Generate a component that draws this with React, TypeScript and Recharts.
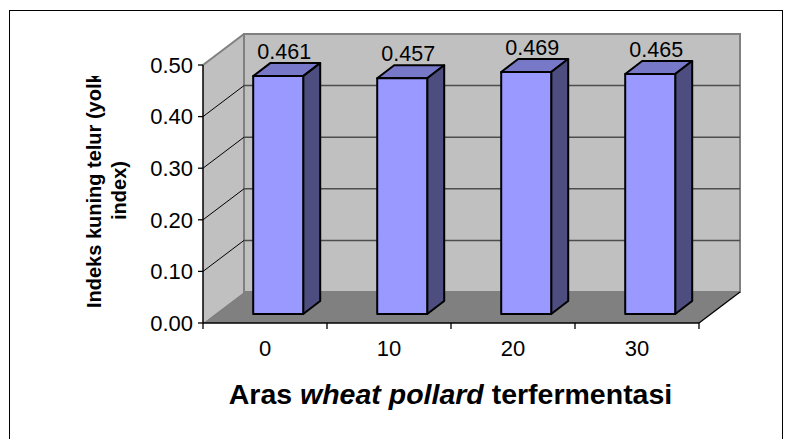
import React from "react";
import { BarChart, Bar, XAxis, YAxis, ReferenceArea, LabelList } from "recharts";

const categories = ["0", "10", "20", "30"];
const yolkIndex = [0.461, 0.457, 0.469, 0.465];
const yTicks = [0, 0.1, 0.2, 0.3, 0.4, 0.5];

const data = categories.map((name, i) => ({ name, value: yolkIndex[i] }));

const FONT = '"Liberation Sans", Arial, Helvetica, sans-serif';

// depth of the 3D box (walls) and of the columns
const WALL_DX = 41;
const WALL_DY = 31;
const BAR_SX = 13; // column front face sits a bit inside the box
const BAR_SY = 9;
const BAR_DX = 17;
const BAR_DY = 13;

// back wall, side wall, floor and gridlines, drawn from the plot rect
function Walls(props: any) {
  const { x, y, width, height } = props;
  const yMax = yTicks[yTicks.length - 1];
  const yAt = (v: number) => y + height - (v / yMax) * height;
  const bx = x + WALL_DX;
  const by = y - WALL_DY;
  const bottom = y + height;
  const step = width / categories.length;
  const bounds = categories.map((_, i) => i).concat([categories.length]);

  return (
    <g>
      <polygon
        points={`${x},${y} ${bx},${by} ${bx},${by + height} ${x},${bottom}`}
        fill="#c0c0c0"
      />
      <rect x={bx} y={by} width={width} height={height} fill="#c0c0c0" stroke="#808080" strokeWidth={2} />
      {yTicks.slice(1, -1).map((v) => (
        <g key={v}>
          <line x1={bx} x2={bx + width} y1={yAt(v) - WALL_DY} y2={yAt(v) - WALL_DY} stroke="#4d4d4d" strokeWidth={1.5} />
          <line x1={x} y1={yAt(v)} x2={bx} y2={yAt(v) - WALL_DY} stroke="#000" strokeWidth={1} />
        </g>
      ))}
      <line x1={x} y1={y} x2={bx} y2={by} stroke="#808080" strokeWidth={2} />
      <polygon
        points={`${x},${bottom} ${bx},${bottom - WALL_DY} ${bx + width},${bottom - WALL_DY} ${x + width},${bottom}`}
        fill="#808080"
      />
      <line x1={x + width} y1={bottom} x2={bx + width} y2={bottom - WALL_DY} stroke="#000" strokeWidth={1.3} />
      {bounds.map((i) => (
        <line key={i} x1={x + i * step} x2={x + i * step} y1={bottom} y2={bottom + 6} stroke="#000" strokeWidth={1.3} />
      ))}
    </g>
  );
}

function Column(props: any) {
  const { x, y, width, height } = props;
  const fx = x + BAR_SX;
  const fy = y - BAR_SY;
  const r = fx + width;
  return (
    <g stroke="#000" strokeWidth={2} strokeLinejoin="round">
      <polygon
        points={`${fx},${fy} ${fx + BAR_DX},${fy - BAR_DY} ${r + BAR_DX},${fy - BAR_DY} ${r},${fy}`}
        fill="#7878c8"
      />
      <polygon
        points={`${r},${fy} ${r + BAR_DX},${fy - BAR_DY} ${r + BAR_DX},${fy + height - BAR_DY} ${r},${fy + height}`}
        fill="#4d4d80"
      />
      <rect x={fx} y={fy} width={width} height={height} fill="#9999ff" />
    </g>
  );
}

function ValueLabel(props: any) {
  const vb = props.viewBox || {};
  const x = props.x ?? vb.x;
  const y = props.y ?? vb.y;
  const width = props.width ?? vb.width;
  return (
    <text
      x={x + BAR_SX + width / 2 + 6}
      y={y - BAR_SY - 17}
      textAnchor="middle"
      fontFamily={FONT}
      fontSize={21.5}
      fill="#000"
    >
      {Number(props.value).toFixed(3)}
    </text>
  );
}

export default function App() {
  return (
    <div style={{ position: "absolute", left: 0, top: 0, width: 792, height: 439, background: "#fff", overflow: "hidden" }}>
      <div
        style={{
          position: "absolute",
          left: 9,
          top: 10,
          width: 774,
          height: 460,
          boxSizing: "border-box",
          border: "1px solid #000",
        }}
      />
      <div style={{ position: "absolute", left: 0, top: 0 }}>
        <BarChart
          width={792}
          height={439}
          data={data}
          margin={{ top: 65, right: 93, left: 143, bottom: 76 }}
          barCategoryGap="30%"
        >
          <ReferenceArea y1={0} y2={0.5} shape={<Walls />} />
          <XAxis
            dataKey="name"
            height={40}
            interval={0}
            axisLine={{ stroke: "#000", strokeWidth: 1.5 }}
            tickLine={false}
            tickSize={0}
            tickMargin={17}
            tick={{ fill: "#000", fontSize: 22, fontFamily: FONT }}
          />
          <YAxis
            width={60}
            domain={[0, 0.5]}
            ticks={yTicks}
            tickFormatter={(v: number) => v.toFixed(2)}
            axisLine={{ stroke: "#000", strokeWidth: 1.5 }}
            tickLine={{ stroke: "#000", strokeWidth: 1.3 }}
            tickSize={5}
            tickMargin={5}
            tick={{ fill: "#000", fontSize: 22, fontFamily: FONT }}
          />
          <Bar dataKey="value" shape={<Column />} isAnimationActive={false}>
            <LabelList dataKey="value" content={<ValueLabel />} />
          </Bar>
        </BarChart>
      </div>
      <svg width={792} height={439} style={{ position: "absolute", left: 0, top: 0, pointerEvents: "none" }}>
        <defs>
          <clipPath id="ytitle-clip">
            <rect x={0} y={76} width={200} height={363} />
          </clipPath>
        </defs>
        <g fontFamily={FONT} fontWeight="bold" fontSize={20} fill="#000">
          <g clipPath="url(#ytitle-clip)">
            <text transform="rotate(-90)" x={-308} y={100.5} textAnchor="start">
              Indeks kuning telur (yolk
            </text>
          </g>
          <text transform="rotate(-90)" x={-190.5} y={125.5} textAnchor="middle">
            index)
          </text>
        </g>
        <text x={450.5} y={404} textAnchor="middle" fontFamily={FONT} fontWeight="bold" fontSize={28.5} fill="#000">
          Aras <tspan fontStyle="italic">wheat pollard</tspan> terfermentasi
        </text>
      </svg>
    </div>
  );
}
